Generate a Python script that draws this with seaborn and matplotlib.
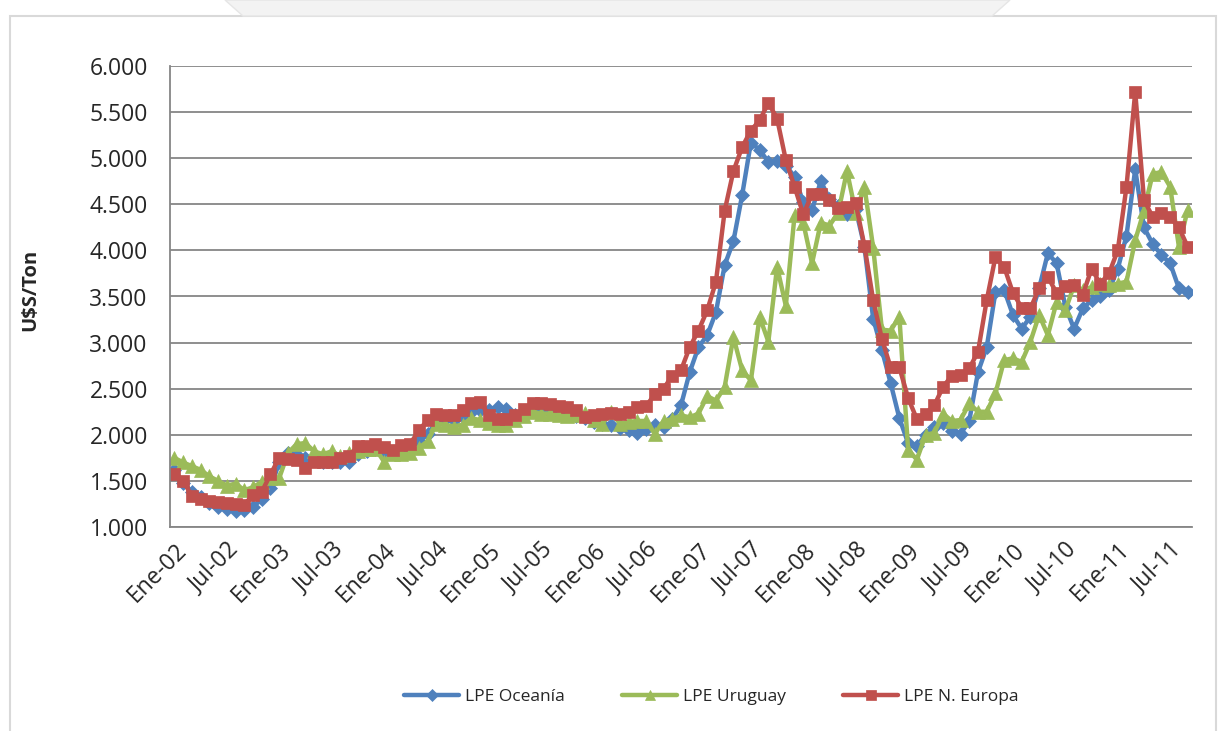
import matplotlib
matplotlib.use("Agg")
import matplotlib.pyplot as plt
import matplotlib.ticker as mticker
from matplotlib.patches import Rectangle, Polygon
import pandas as pd
import seaborn as sns

# ---------------------------------------------------------------------------
# Datos (U$S/Ton, mensual Ene-02 .. Sep-11)
# ---------------------------------------------------------------------------
MESES = ["Ene", "Feb", "Mar", "Abr", "May", "Jun", "Jul", "Ago", "Sep", "Oct", "Nov", "Dic"]
ANIOS = ["02", "03", "04", "05", "06", "07", "08", "09", "10", "11"]
fechas = [f"{m}-{a}" for a in ANIOS for m in MESES][:117]

lpe_oceania = [
    1620, 1480, 1380, 1320, 1260, 1220, 1190, 1170, 1180, 1220, 1300, 1420,
    1700, 1800, 1780, 1750, 1730, 1710, 1700, 1700, 1710, 1790, 1820, 1850,
    1820, 1800, 1830, 1860, 1930, 2010, 2140, 2170, 2160, 2200, 2250, 2270,
    2270, 2300, 2280, 2220, 2230, 2260, 2260, 2250, 2240, 2220, 2200, 2180,
    2140, 2120, 2110, 2070, 2050, 2020, 2060, 2110, 2090, 2170, 2320, 2680,
    2950, 3080, 3330, 3840, 4100, 4600, 5170, 5090, 4960, 4970, 4920, 4800,
    4520, 4440, 4750, 4560, 4480, 4400, 4450, 4040, 3260, 2920, 2560, 2180,
    1910, 1880, 2000, 2090, 2130, 2040, 2010, 2150, 2680, 2950, 3550, 3570,
    3300, 3150, 3280, 3590, 3970, 3860, 3390, 3150, 3370, 3460, 3500, 3570,
    3800, 4160, 4880, 4250, 4070, 3950, 3860, 3590, 3550,
]

lpe_uruguay = [
    1750, 1700, 1660, 1620, 1550, 1500, 1450, 1470, 1400, 1430, 1490, 1530,
    1530, 1800, 1900, 1910, 1820, 1790, 1820, 1770, 1800, 1820, 1850, 1850,
    1710, 1790, 1790, 1800, 1860, 1930, 2120, 2110, 2090, 2110, 2180, 2160,
    2130, 2110, 2110, 2160, 2200, 2250, 2230, 2230, 2210, 2200, 2220, 2240,
    2160, 2120, 2250, 2120, 2140, 2150, 2150, 2010, 2150, 2170, 2210, 2190,
    2230, 2420, 2370, 2520, 3060, 2700, 2590, 3280, 3010, 3820, 3400, 4380,
    4300, 3860, 4300, 4270, 4410, 4860, 4410, 4690, 4030, 3140, 3130, 3280,
    1840, 1730, 2000, 2020, 2230, 2150, 2160, 2340, 2250, 2250, 2450, 2810,
    2830, 2790, 3010, 3300, 3080, 3440, 3350, 3620, 3570, 3600, 3640, 3620,
    3640, 3660, 4110, 4430, 4830, 4850, 4690, 4040, 4440,
]

lpe_n_europa = [
    1570, 1500, 1340, 1300, 1280, 1270, 1260, 1250, 1240, 1350, 1380, 1570,
    1750, 1740, 1725, 1645, 1705, 1705, 1705, 1750, 1775, 1875, 1880, 1900,
    1870, 1840, 1890, 1900, 2050, 2160, 2230, 2220, 2220, 2270, 2340, 2360,
    2210, 2170, 2170, 2210, 2280, 2340, 2340, 2330, 2310, 2300, 2270, 2190,
    2210, 2230, 2240, 2230, 2250, 2300, 2310, 2440, 2500, 2640, 2700, 2950,
    3130, 3350, 3660, 4430, 4860, 5120, 5300, 5410, 5600, 5430, 4980, 4690,
    4390, 4610, 4610, 4550, 4460, 4470, 4510, 4050, 3460, 3040, 2730, 2730,
    2400, 2170, 2230, 2320, 2520, 2640, 2650, 2720, 2900, 3460, 3930, 3820,
    3540, 3380, 3370, 3590, 3710, 3540, 3610, 3620, 3520, 3800, 3640, 3750,
    4000, 4690, 5720, 4550, 4360, 4410, 4360, 4250, 4040,
]

df = pd.DataFrame({
    "fecha": fechas,
    "mes": range(len(fechas)),
    "LPE Oceanía": lpe_oceania,
    "LPE Uruguay": lpe_uruguay,
    "LPE N. Europa": lpe_n_europa,
})

# colour / marker per series (Excel 2007 palette)
ESTILOS = {
    "LPE Oceanía": ("#4F81BD", "D", 7.5),
    "LPE Uruguay": ("#9BBB59", "^", 9.5),
    "LPE N. Europa": ("#C0504D", "s", 8.5),
}

GRIS = "#868686"

sns.set_style("white")
plt.rcParams["font.family"] = ["Open Sans", "DejaVu Sans"]

fig = plt.figure(figsize=(12.29, 7.31), dpi=100)
W, H = 1229, 731
ax = fig.add_axes([170 / W, 1 - 527 / H, (1192 - 170) / W, (527 - 66) / H])

for serie, (color, marker, ms) in ESTILOS.items():
    sns.lineplot(
        data=df,
        x="mes",
        y=serie,
        ax=ax,
        color=color,
        linewidth=3.2,
        marker=marker,
        markersize=ms,
        markeredgecolor=color,
        markeredgewidth=0.5,
        label=serie,
    )

# axes
ax.set_xlim(-0.5, len(fechas) - 0.5)
ax.set_ylim(1000, 6000)
ax.yaxis.set_major_locator(mticker.MultipleLocator(500))
ax.yaxis.set_major_formatter(
    mticker.FuncFormatter(lambda v, p: f"{v:,.0f}".replace(",", "."))
)
ax.yaxis.grid(True, color=GRIS, linewidth=1.3)
ax.set_axisbelow(True)

pos = list(range(0, len(fechas), 6))
ax.set_xticks(pos)
ax.set_xticklabels([fechas[i] for i in pos], rotation=45, ha="right",
                   rotation_mode="anchor")
ax.set_xticks([p - 0.5 for p in pos], minor=True)
ax.tick_params(axis="x", which="major", length=0, pad=8, labelsize=16.5)
ax.tick_params(axis="x", which="minor", length=6, width=1.3, color=GRIS,
               direction="out")
ax.tick_params(axis="y", length=6, width=1.3, color=GRIS, direction="out",
               labelsize=16.5, pad=10)

for side in ["top", "right"]:
    ax.spines[side].set_visible(False)
for side in ["left", "bottom"]:
    ax.spines[side].set_color(GRIS)
    ax.spines[side].set_linewidth(1.3)

ax.set_xlabel("")
ax.set_ylabel("U\\$S/Ton", fontweight="bold", fontsize=14.5)
ax.yaxis.set_label_coords(-0.127, 0.514)

ax.legend(
    loc="center",
    bbox_to_anchor=(711 / W, 1 - 697 / H),
    bbox_transform=fig.transFigure,
    ncol=3,
    frameon=False,
    fontsize=12.5,
    handlelength=3.2,
    handletextpad=0.3,
    columnspacing=3.3,
    markerscale=0.8,
)

# chart frame and top decoration of the screenshot
fig.add_artist(Rectangle((10 / W, -0.01), (1216 - 10) / W, (731 - 16) / H + 0.01,
                         transform=fig.transFigure, fill=False,
                         edgecolor="#d9d9d9", linewidth=1.5))
fig.add_artist(Polygon([(225 / W, 1), (1010 / W, 1), (992 / W, 1 - 16 / H),
                        (243 / W, 1 - 16 / H)],
                       closed=True, transform=fig.transFigure,
                       facecolor="#f3f3f3", edgecolor="#e6e6e6", linewidth=1))

fig.savefig("out.png", dpi=100)
